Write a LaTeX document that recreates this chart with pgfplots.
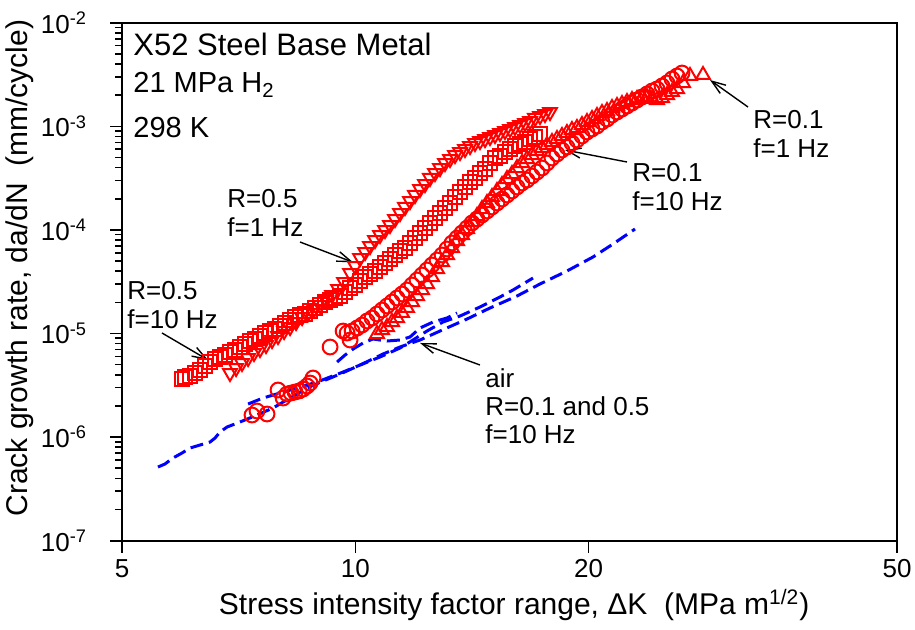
\documentclass[border=0pt]{standalone}
\usepackage{fontspec}
\setmainfont{Liberation Sans}
\usepackage{pgfplots}
\pgfplotsset{compat=1.18}
\usetikzlibrary{arrows.meta}
\definecolor{pr}{RGB}{255,0,0}
\definecolor{pb}{RGB}{0,0,255}
\begin{document}
\begin{tikzpicture}
\path[use as bounding box] (-61bp,-44.65bp) rectangle (396.5bp,270.35bp);
\begin{axis}[
  at={(0,0)}, anchor=south west,
  scale only axis, width=387.5bp, height=259bp,
  xmode=log, ymode=log,
  xmin=5, xmax=50, ymin=1e-7, ymax=1e-2,
  xtick={5,10,20,50}, xticklabels={5,10,20,50},
  minor xtick={},
  ytick={1e-7,1e-6,1e-5,1e-4,1e-3,1e-2},
  yticklabels={10\textsuperscript{-7},10\textsuperscript{-6},10\textsuperscript{-5},10\textsuperscript{-4},10\textsuperscript{-3},10\textsuperscript{-2}},
  tick pos=left, tick align=outside,
  major tick length=6bp, minor tick length=3.5bp,
  axis line style={line width=0.9bp},
  every tick/.style={black, line width=0.8bp},
  ticklabel style={font=\fontsize{13bp}{15bp}\selectfont},
  yticklabel style={xshift=-8bp},
  xlabel={Stress intensity factor range, ΔK\ \ (MPa m\textsuperscript{1/2})},
  ylabel={Crack growth rate, da/dN\ \ (mm/cycle)},
  label style={font=\fontsize{15bp}{18bp}\selectfont},
  xlabel style={at={(axis description cs:0.506,-0.124)}, anchor=center},
  ylabel style={at={(axis description cs:-0.1316,0.526)}, anchor=center},
  clip=false,
]
% air (blue dashed)
\addplot[pb, no marks, line width=1.5bp, dash pattern=on 6.5bp off 3bp] coordinates {
(5.564,5.145e-7)(5.681,5.500e-7)(5.818,6.285e-7)(5.976,7.022e-7)(6.120,7.849e-7)(6.305,8.390e-7)(6.495,8.969e-7)(6.592,9.802e-7)(6.690,1.120e-6)(6.832,1.252e-6)(7.100,1.399e-6)(7.468,1.634e-6)(7.832,1.910e-6)(8.238,2.384e-6)(8.665,2.978e-6)(9.087,3.479e-6)(9.558,4.064e-6)(10.143,4.964e-6)(10.858,6.341e-6)(11.421,7.408e-6)(12.120,8.656e-6)(12.862,1.057e-5)(13.936,1.380e-5)(14.922,1.763e-5)(16.168,2.301e-5)(17.311,3.005e-5)(18.757,4.011e-5)(20.263,5.476e-5)(21.504,7.309e-5)(22.956,1.020e-4)};
\addplot[pb, no marks, line width=1.5bp, dash pattern=on 6.5bp off 3bp] coordinates {
(7.272,2.087e-6)(7.603,2.384e-6)(7.997,2.665e-6)(8.411,2.978e-6)(8.926,3.403e-6)(9.278,3.803e-6)(9.644,4.249e-6)(10.143,4.964e-6)(10.762,5.932e-6)(11.421,7.244e-6)(11.870,8.656e-6)(12.374,1.057e-5)(12.977,1.291e-5)(13.649,1.475e-5)(14.485,1.803e-5)(15.372,2.251e-5)(15.977,2.630e-5)(16.955,3.433e-5)};
\addplot[pb, no marks, line width=1.5bp, dash pattern=on 6.5bp off 3bp] coordinates {
(9.473,5.307e-6)(9.701,6.202e-6)(9.935,7.085e-6)(10.234,8.096e-6)(10.540,8.849e-6)(10.988,8.465e-6)(11.421,8.656e-6)(11.765,9.252e-6)(12.120,1.130e-5)(12.597,1.291e-5)(13.132,1.411e-5)(13.528,1.578e-5)};
% R=0.5, f=10 Hz (squares)
\addplot[pr, only marks, mark=square, mark size=3.4bp, mark options={solid, line width=1bp}] coordinates {
(5.976,3.638e-6)(6.030,3.803e-6)(6.120,3.889e-6)(6.212,4.157e-6)(6.305,4.444e-6)(6.399,4.857e-6)(6.495,5.307e-6)(6.592,5.674e-6)(6.690,5.932e-6)(6.791,6.202e-6)(6.892,6.630e-6)(6.996,6.930e-6)(7.100,7.408e-6)(7.207,7.919e-6)(7.315,8.465e-6)(7.424,8.849e-6)(7.535,9.461e-6)(7.648,1.011e-5)(7.763,1.057e-5)(7.879,1.105e-5)(7.997,1.181e-5)(8.117,1.263e-5)(8.238,1.350e-5)(8.361,1.443e-5)(8.487,1.509e-5)(8.614,1.543e-5)(8.743,1.649e-5)(8.873,1.763e-5)(9.006,1.884e-5)(9.141,2.014e-5)(9.278,2.106e-5)(9.417,2.202e-5)(9.558,2.301e-5)(9.701,2.515e-5)(9.846,2.749e-5)(9.994,2.939e-5)(10.143,3.212e-5)(10.295,3.511e-5)(10.447,3.752e-5)(10.603,4.011e-5)(10.762,4.385e-5)(10.923,4.792e-5)(11.086,5.237e-5)(11.252,5.724e-5)(11.421,6.256e-5)(11.592,6.688e-5)(11.765,7.474e-5)(11.941,8.353e-5)(12.120,9.335e-5)(12.301,1.043e-4)(12.485,1.166e-4)(12.672,1.303e-4)(12.862,1.456e-4)(13.054,1.627e-4)(13.250,1.818e-4)(13.448,2.078e-4)(13.649,2.322e-4)(13.853,2.595e-4)(14.061,2.900e-4)(14.271,3.170e-4)(14.485,3.542e-4)(14.702,3.871e-4)(14.922,4.424e-4)(15.145,4.943e-4)(15.372,5.168e-4)(15.602,5.648e-4)(15.835,6.038e-4)(16.072,6.454e-4)(16.313,6.748e-4)(16.557,7.054e-4)(16.804,7.541e-4)(17.056,7.884e-4)(17.311,8.428e-4)};
% R=0.5, f=1 Hz (down triangles)
\addplot[pr, only marks, mark=triangle, mark size=4bp, mark options={solid, line width=1bp, rotate=180}] coordinates {
(6.892,4.157e-6)(7.017,4.645e-6)(7.142,5.190e-6)(7.272,5.801e-6)(7.402,6.484e-6)(7.535,7.085e-6)(7.671,7.745e-6)(7.809,8.656e-6)(7.950,9.461e-6)(8.093,1.057e-5)(8.238,1.155e-5)(8.386,1.291e-5)(8.538,1.443e-5)(8.691,1.578e-5)(8.847,1.724e-5)(9.006,1.884e-5)(9.168,2.106e-5)(9.333,2.353e-5)(9.501,2.689e-5)(9.672,3.141e-5)(9.846,3.837e-5)(9.994,4.482e-5)(10.143,5.355e-5)(10.295,6.119e-5)(10.447,6.991e-5)(10.603,7.990e-5)(10.762,8.929e-5)(10.923,9.977e-5)(11.086,1.115e-4)(11.252,1.274e-4)(11.421,1.456e-4)(11.592,1.664e-4)(11.765,1.900e-4)(11.941,2.173e-4)(12.120,2.482e-4)(12.301,2.773e-4)(12.485,3.170e-4)(12.672,3.542e-4)(12.862,3.958e-4)(13.054,4.424e-4)(13.250,4.835e-4)(13.448,5.284e-4)(13.649,5.648e-4)(13.853,6.038e-4)(14.061,6.454e-4)(14.271,6.899e-4)(14.485,7.212e-4)(14.702,7.541e-4)(14.922,7.884e-4)(15.145,8.241e-4)(15.372,8.616e-4)(15.602,9.007e-4)(15.835,9.417e-4)(16.072,9.845e-4)(16.313,1.029e-3)(16.557,1.076e-3)(16.804,1.125e-3)(17.056,1.203e-3)(17.311,1.257e-3)(17.570,1.314e-3)(17.833,1.374e-3)};
% R=0.1, f=10 Hz (circles)
\addplot[pr, only marks, mark=o, mark size=3.7bp, mark options={solid, line width=1bp}] coordinates {
(7.358,1.634e-6)(7.468,1.786e-6)(7.694,1.671e-6)(7.950,2.849e-6)(8.069,2.384e-6)(8.165,2.606e-6)(8.263,2.665e-6)(8.361,2.724e-6)(8.462,2.786e-6)(8.563,2.912e-6)(8.665,3.113e-6)(8.743,3.328e-6)(8.820,3.720e-6)(9.278,7.408e-6)(9.644,1.057e-5)(9.846,8.656e-6)
(9.759,1.011e-5)(9.905,1.057e-5)(10.054,1.130e-5)(10.203,1.208e-5)(10.356,1.320e-5)(10.509,1.411e-5)(10.666,1.543e-5)(10.826,1.686e-5)(10.988,1.843e-5)(11.152,2.014e-5)(11.319,2.202e-5)(11.489,2.406e-5)(11.661,2.630e-5)(11.835,2.939e-5)(12.012,3.284e-5)(12.192,3.670e-5)(12.374,4.101e-5)(12.559,4.584e-5)(12.748,5.122e-5)(12.939,5.724e-5)(13.132,6.541e-5)(13.329,7.474e-5)(13.528,8.353e-5)(13.730,9.335e-5)(13.936,1.043e-4)(14.145,1.166e-4)(14.356,1.274e-4)(14.571,1.393e-4)(14.790,1.522e-4)(15.011,1.664e-4)(15.235,1.818e-4)(15.464,1.987e-4)(15.695,2.173e-4)(15.929,2.374e-4)(16.168,2.595e-4)(16.410,2.836e-4)(16.656,3.031e-4)(16.904,3.313e-4)(17.158,3.622e-4)(17.414,3.958e-4)(17.675,4.424e-4)(17.939,4.943e-4)(18.208,5.403e-4)(18.480,5.905e-4)(18.757,6.313e-4)(19.038,6.899e-4)(19.322,7.376e-4)(19.612,8.061e-4)(19.905,8.810e-4)(20.203,9.417e-4)(20.505,1.007e-3)(20.812,1.100e-3)(21.124,1.176e-3)(21.440,1.285e-3)(21.761,1.374e-3)(22.086,1.469e-3)(22.417,1.570e-3)(22.752,1.678e-3)(23.093,1.794e-3)(23.438,1.918e-3)(23.789,2.050e-3)(24.145,2.191e-3)(24.506,2.291e-3)(24.873,2.449e-3)(25.246,2.618e-3)(25.623,2.861e-3)(26.006,3.059e-3)(26.396,3.269e-3)};
% R=0.1, f=1 Hz (up triangles)
\addplot[pr, only marks, mark=triangle, mark size=4bp, mark options={solid, line width=1bp}] coordinates {
(10.666,9.890e-6)(10.826,1.081e-5)(10.988,1.155e-5)(11.152,1.291e-5)(11.319,1.411e-5)(11.489,1.578e-5)(11.661,1.763e-5)(11.835,2.014e-5)(12.012,2.301e-5)(12.192,2.630e-5)(12.374,3.005e-5)(12.559,3.511e-5)(12.748,4.194e-5)(12.939,4.900e-5)(13.132,5.724e-5)(13.329,6.688e-5)(13.528,7.815e-5)(13.730,8.929e-5)(13.936,1.020e-4)(14.145,1.192e-4)(14.356,1.362e-4)(14.571,1.591e-4)(14.790,1.818e-4)(15.011,2.078e-4)(15.235,2.374e-4)(15.464,2.713e-4)(15.695,3.100e-4)(15.929,3.463e-4)(16.168,3.958e-4)(16.410,4.424e-4)(16.656,4.835e-4)(16.904,5.284e-4)(17.158,5.776e-4)(17.414,6.173e-4)(17.675,6.598e-4)(17.939,7.054e-4)(18.208,7.541e-4)(18.480,8.061e-4)(18.757,8.616e-4)(19.038,9.209e-4)(19.322,9.629e-4)(19.612,1.029e-3)(19.905,1.100e-3)(20.203,1.176e-3)(20.505,1.257e-3)(20.812,1.344e-3)(21.124,1.405e-3)(21.440,1.502e-3)(21.761,1.570e-3)(22.086,1.641e-3)(22.417,1.716e-3)(22.752,1.794e-3)(23.093,1.835e-3)(23.438,1.876e-3)(23.789,1.918e-3)(24.145,1.835e-3)(24.506,1.794e-3)(24.873,1.876e-3)(25.246,2.005e-3)(25.623,2.144e-3)(26.006,2.291e-3)(26.475,2.618e-3)(27.032,3.059e-3)(28.097,3.128e-3)};
% text
\begin{scope}[every node/.style={anchor=base west, inner sep=0pt}]
\node[font=\fontsize{15.5bp}{18bp}\selectfont] at (rel axis cs:0.0142,0.9376) {X52 Steel Base Metal};
\node[font=\fontsize{14.5bp}{17bp}\selectfont] at (rel axis cs:0.0142,0.8643) {21 MPa H\textsubscript{2}};
\node[font=\fontsize{14.5bp}{17bp}\selectfont] at (rel axis cs:0.0142,0.7793) {298 K};
\begin{scope}[every node/.append style={font=\fontsize{13bp}{15bp}\selectfont}]
\node at (rel axis cs:0.1355,0.6423) {R=0.5};
\node at (rel axis cs:0.1355,0.5882) {f=1 Hz};
\node at (rel axis cs:0.00645,0.4647) {R=0.5};
\node at (rel axis cs:0.00645,0.4106) {f=10 Hz};
\node at (rel axis cs:0.6581,0.6925) {R=0.1};
\node at (rel axis cs:0.6581,0.6365) {f=10 Hz};
\node at (rel axis cs:0.8142,0.7948) {R=0.1};
\node at (rel axis cs:0.8142,0.7407) {f=1 Hz};
\node at (rel axis cs:0.4684,0.2967) {air};
\node at (rel axis cs:0.4684,0.2425) {R=0.1 and 0.5};
\node at (rel axis cs:0.4684,0.1886) {f=10 Hz};
\end{scope}
\end{scope}
\begin{scope}[line width=0.7bp, -{Straight Barb[length=7bp,width=5bp]}]
\draw (rel axis cs:0.2297,0.5766) -- (rel axis cs:0.2981,0.5376);
\draw (rel axis cs:0.0516,0.4010) -- (rel axis cs:0.1110,0.3489);
\draw (rel axis cs:0.6516,0.7311) -- (rel axis cs:0.5716,0.7542);
\draw (rel axis cs:0.8077,0.8373) -- (rel axis cs:0.7587,0.8894);
\draw (rel axis cs:0.4619,0.3392) -- (rel axis cs:0.3845,0.3817);
\end{scope}
\end{axis}
\end{tikzpicture}
\end{document}
